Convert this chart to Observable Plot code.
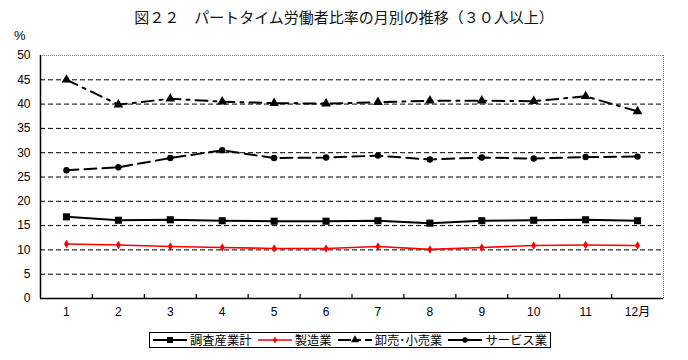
<!DOCTYPE html>
<html><head><meta charset="utf-8">
<script src="https://cdn.jsdelivr.net/npm/d3@7"></script>
<script src="https://cdn.jsdelivr.net/npm/@observablehq/plot@0.6"></script>
<style>
body{margin:0;background:#fff;}
#wrap{position:relative;width:688px;height:360px;font-family:"Noto Sans CJK JP",sans-serif;}
#chart{position:absolute;left:0;top:0;}
#title{position:absolute;top:6px;left:0;width:688px;text-align:center;font-size:15px;line-height:22px;color:#111;}
#pct{position:absolute;left:14px;top:28px;font-size:13px;line-height:16px;font-family:"Liberation Sans",sans-serif;}
#legend{position:absolute;left:149px;top:332px;width:402px;height:16px;border:1px solid #000;display:flex;align-items:center;justify-content:space-between;padding:0 3px 0 3px;box-sizing:border-box;font-size:12.3px;line-height:16px;white-space:nowrap;}
#legend .item{display:flex;align-items:center;flex:none;}
#legend svg{margin-right:3px;flex:none;}
</style>
</head><body>
<div id="wrap">
  <div id="chart"></div>
  <div id="title">図２２　パートタイム労働者比率の月別の推移（３０人以上）</div>
  <div id="pct">%</div>
  <div id="legend"></div>
</div>
<script>
const months = [1,2,3,4,5,6,7,8,9,10,11,12];
const monthLabels = ["1","2","3","4","5","6","7","8","9","10","11","12月"];
const yTicks = [0,5,10,15,20,25,30,35,40,45,50];
const seriesNames = ["調査産業計","製造業","卸売･小売業","サービス業"];
const total = [16.8,16.1,16.2,16.0,15.9,15.9,16.0,15.5,16.0,16.1,16.2,16.0];
const manufacturing = [11.2,11.0,10.7,10.5,10.3,10.3,10.7,10.1,10.5,10.9,11.0,10.9];
const retail = [45.0,39.9,41.1,40.5,40.2,40.1,40.4,40.7,40.7,40.6,41.6,38.5];
const services = [26.4,27.0,28.9,30.5,28.9,29.0,29.4,28.6,29.0,28.8,29.1,29.2];

const seriesValues = [total, manufacturing, retail, services];
const styles = [
  {stroke:"#000", width:2, dash:null, legendDash:null, symbol:"square", r:4},
  {stroke:"#ff0000", width:1.6, dash:null, legendDash:null, symbol:"diamond", r:2.6},
  {stroke:"#000", width:2, dash:"12,6,3,6", legendDash:"0,21,6,3", symbol:"triangle", r:3.6},
  {stroke:"#000", width:2, dash:"12,6", legendDash:null, symbol:"circle", r:3.2}
];

const boundaries = months.slice(0, -1).map(m => m + 0.5);
const gridVals = yTicks.filter(v => v > 0 && v < 50);

const H = 360, MT = 55, MB = 62;
const marks = [
  Plot.ruleY(gridVals, {stroke:"#000", strokeDasharray:"5,3", strokeWidth:1}),
  Plot.ruleY([50], {stroke:"#777", strokeDasharray:"1,1", strokeWidth:1}),
  Plot.ruleX([12.5], {stroke:"#777", strokeDasharray:"1,1", strokeWidth:1}),
  Plot.ruleX([0.5], {stroke:"#000", strokeWidth:1.5}),
  Plot.ruleY([0], {stroke:"#000", strokeWidth:1.5}),
  Plot.tickX(boundaries, {stroke:"#000", strokeWidth:1.2, insetTop: H - MT - MB - 4}),
  Plot.text(yTicks, {y: d => d, text: d => String(d), frameAnchor:"left", textAnchor:"end", dx:-10, fontSize:12, fontFamily:"Liberation Sans, Arial, sans-serif", fill:"#000"}),
  Plot.text(months, {x: d => d, text: (d, i) => monthLabels[i], frameAnchor:"bottom", dy:17, fontSize:12, fontFamily:"Liberation Sans, 'Noto Sans CJK JP', sans-serif", fill:"#000"})
];
seriesValues.forEach((vals, si) => {
  const rows = months.map((m, i) => ({month:m, value:vals[i]}));
  const st = styles[si];
  marks.push(Plot.line(rows, {x:"month", y:"value", stroke:st.stroke, strokeWidth:st.width, strokeDasharray:st.dash || undefined}));
  marks.push(Plot.dot(rows, {x:"month", y:"value", symbol:() => st.symbol, fill:st.stroke, stroke:"none", r:st.r}));
});

const chart = Plot.plot({
  width:688, height:H,
  marginLeft:40, marginRight:25, marginTop:MT, marginBottom:MB,
  x:{domain:[0.5,12.5], axis:null},
  y:{domain:[0,50], axis:null},
  style:{background:"transparent", overflow:"visible"},
  marks
});
document.getElementById("chart").appendChild(chart);

// legend
const legend = document.getElementById("legend");
const symMap = {square:d3.symbolSquare, diamond:d3.symbolDiamond, triangle:d3.symbolTriangle, circle:d3.symbolCircle};
seriesNames.forEach((name, si) => {
  const st = styles[si];
  const item = document.createElement("div");
  item.className = "item";
  const svg = d3.create("svg").attr("width", 34).attr("height", 12);
  svg.append("line").attr("x1", 0).attr("x2", 34).attr("y1", 6).attr("y2", 6)
    .attr("stroke", st.stroke).attr("stroke-width", st.width)
    .attr("stroke-dasharray", st.legendDash ? "13,6,4,4" : null);
  svg.append("path").attr("transform", "translate(17,6)")
    .attr("d", d3.symbol(symMap[st.symbol], Math.PI * st.r * st.r * 0.7)())
    .attr("fill", st.stroke);
  item.appendChild(svg.node());
  const span = document.createElement("span");
  span.textContent = name;
  item.appendChild(span);
  legend.appendChild(item);
});
</script>
</body></html>
